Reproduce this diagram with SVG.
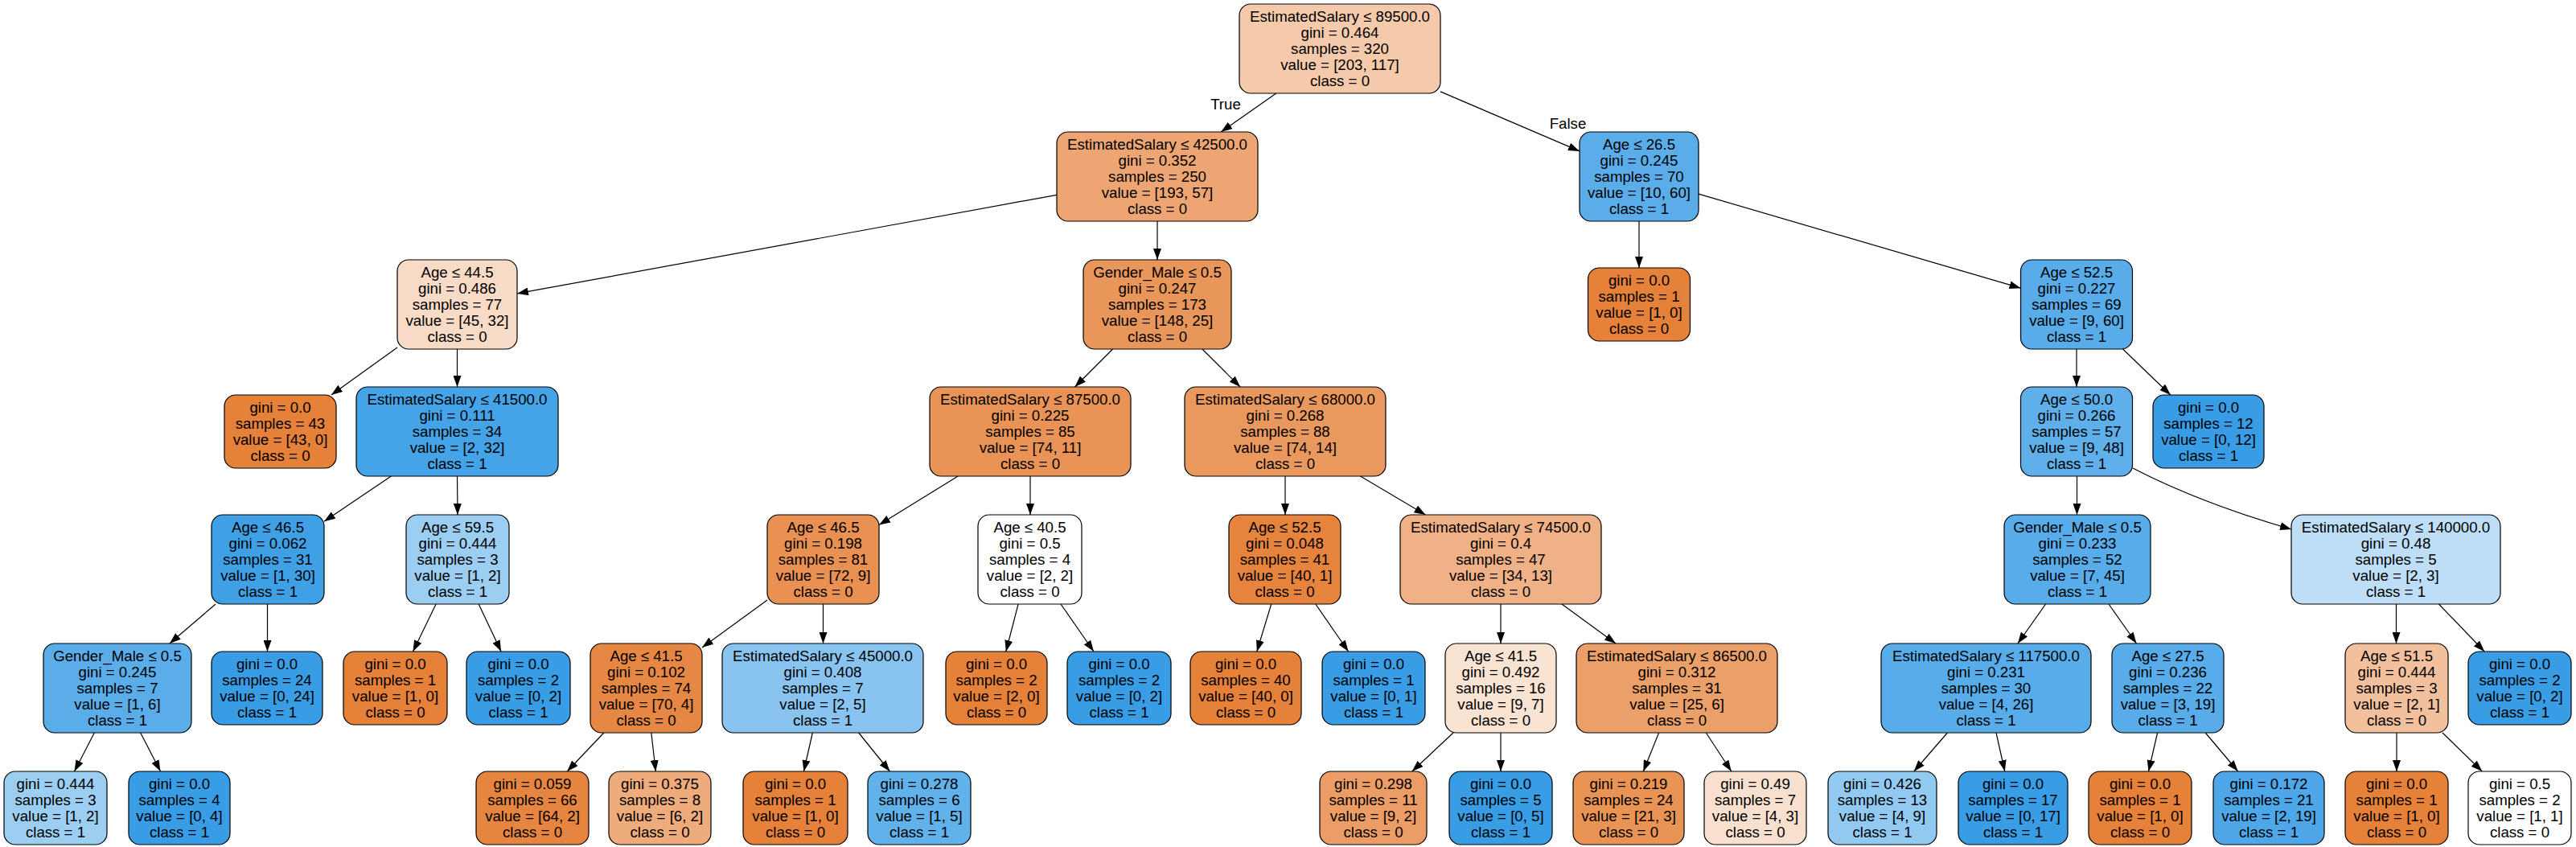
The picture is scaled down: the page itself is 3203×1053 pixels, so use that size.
<svg xmlns="http://www.w3.org/2000/svg" width="3203" height="1053" viewBox="0 0 3203 1053">
<defs>
<style>
text{font-family:"Liberation Sans",Arial,Helvetica,sans-serif;font-size:18.67px;text-anchor:middle;fill:#000}
.node rect{stroke:#000;stroke-width:1.2}
.edges path{stroke:#000;stroke-width:1.2;fill:none;marker-end:url(#arr)}
</style>
<marker id="arr" markerUnits="userSpaceOnUse" markerWidth="14" markerHeight="10" viewBox="0 0 14 10" refX="14" refY="5" orient="auto"><path d="M0,0 L14,5 L0,10 z" fill="#000"/></marker>
</defs>
<rect x="0" y="0" width="3203" height="1053" fill="#fff"/>
<g class="edges">
<path d="M1586.8,116 L1518.2,164"/>
<path d="M1791,113.9 L1964,187.9"/>
<path d="M1314,242.3 L643,364.9"/>
<path d="M1439,275 L1439,323"/>
<path d="M2038,275 L2038,333"/>
<path d="M2112,241.1 L2512.5,358.2"/>
<path d="M494,432 L411.9,491"/>
<path d="M568.5,434 L568.5,481"/>
<path d="M1383.5,434 L1336.5,481"/>
<path d="M1494.9,434 L1542.1,481"/>
<path d="M2582,434 L2582,481"/>
<path d="M2639.6,434 L2698.8,491"/>
<path d="M486.3,592 L403,648.3"/>
<path d="M568.5,592 L569,640"/>
<path d="M1191.1,592 L1093,652.6"/>
<path d="M1281,592 L1281,640"/>
<path d="M1598,592 L1598,640"/>
<path d="M1691.5,592 L1772.5,640"/>
<path d="M2582.5,592 L2582.5,640"/>
<path d="M2652,582 Q2735,625 2849,658"/>
<path d="M268.1,751 L210.9,800"/>
<path d="M332.5,751 L332.5,810"/>
<path d="M542.1,751 L513.5,810"/>
<path d="M595.2,751 L623.1,810"/>
<path d="M954,746.1 L873,804.9"/>
<path d="M1023.5,751 L1023.5,800"/>
<path d="M1266.1,751 L1250.8,810"/>
<path d="M1319,751 L1360,810"/>
<path d="M1580.7,751 L1562.8,810"/>
<path d="M1635.8,751 L1676.6,810"/>
<path d="M1866,751 L1866,800"/>
<path d="M1942,751 L2009,800"/>
<path d="M2543.6,751 L2508.9,800"/>
<path d="M2622,751 L2656.5,800"/>
<path d="M2979.5,751 L2979.5,800"/>
<path d="M3032.4,751 L3089.2,810"/>
<path d="M117.3,911 L92.5,959"/>
<path d="M174.7,911 L199.5,959"/>
<path d="M750.8,911 L705.2,959"/>
<path d="M809.8,911 L815.3,959"/>
<path d="M1010.3,911 L999.4,959"/>
<path d="M1067.7,911 L1106.4,959"/>
<path d="M1807,911 L1755.8,959"/>
<path d="M1866,911 L1866,959"/>
<path d="M2062.6,911 L2043.3,959"/>
<path d="M2121.3,911 L2152.8,959"/>
<path d="M2421.4,911 L2379.8,959"/>
<path d="M2482,911 L2492.8,959"/>
<path d="M2682.6,911 L2671.5,959"/>
<path d="M2742.2,911 L2782.7,959"/>
<path d="M2980,911 L2980,959"/>
<path d="M3037,911 L3086.3,959"/>
<text x="1524" y="136">True</text>
<text x="1949.5" y="160.4">False</text>
</g>

<g id="node0" class="node"><rect x="1541" y="5" width="250" height="111" rx="14" fill="#f4caab"/><text x="1666" y="27.2">EstimatedSalary &#8804; 89500.0<tspan x="1666" dy="20">gini = 0.464</tspan><tspan x="1666" dy="20">samples = 320</tspan><tspan x="1666" dy="20">value = [203, 117]</tspan><tspan x="1666" dy="20">class = 0</tspan></text></g>

<g id="node1" class="node"><rect x="1314" y="164" width="250" height="111" rx="14" fill="#eda673"/><text x="1439" y="186.2">EstimatedSalary &#8804; 42500.0<tspan x="1439" dy="20">gini = 0.352</tspan><tspan x="1439" dy="20">samples = 250</tspan><tspan x="1439" dy="20">value = [193, 57]</tspan><tspan x="1439" dy="20">class = 0</tspan></text></g>

<g id="node2" class="node"><rect x="1964" y="164" width="148" height="111" rx="14" fill="#5aade9"/><text x="2038" y="186.2">Age &#8804; 26.5<tspan x="2038" dy="20">gini = 0.245</tspan><tspan x="2038" dy="20">samples = 70</tspan><tspan x="2038" dy="20">value = [10, 60]</tspan><tspan x="2038" dy="20">class = 1</tspan></text></g>

<g id="node3" class="node"><rect x="494" y="323" width="149" height="111" rx="14" fill="#f7dbc6"/><text x="568.5" y="345.2">Age &#8804; 44.5<tspan x="568.5" dy="20">gini = 0.486</tspan><tspan x="568.5" dy="20">samples = 77</tspan><tspan x="568.5" dy="20">value = [45, 32]</tspan><tspan x="568.5" dy="20">class = 0</tspan></text></g>

<g id="node4" class="node"><rect x="1347" y="323" width="184" height="111" rx="14" fill="#e9965a"/><text x="1439" y="345.2">Gender_Male &#8804; 0.5<tspan x="1439" dy="20">gini = 0.247</tspan><tspan x="1439" dy="20">samples = 173</tspan><tspan x="1439" dy="20">value = [148, 25]</tspan><tspan x="1439" dy="20">class = 0</tspan></text></g>

<g id="node5" class="node"><rect x="1974.5" y="333" width="127" height="91" rx="14" fill="#e58139"/><text x="2038" y="355.2">gini = 0.0<tspan x="2038" dy="20">samples = 1</tspan><tspan x="2038" dy="20">value = [1, 0]</tspan><tspan x="2038" dy="20">class = 0</tspan></text></g>

<g id="node6" class="node"><rect x="2512.5" y="323" width="139" height="111" rx="14" fill="#57ace9"/><text x="2582" y="345.2">Age &#8804; 52.5<tspan x="2582" dy="20">gini = 0.227</tspan><tspan x="2582" dy="20">samples = 69</tspan><tspan x="2582" dy="20">value = [9, 60]</tspan><tspan x="2582" dy="20">class = 1</tspan></text></g>

<g id="node7" class="node"><rect x="279" y="491" width="139" height="91" rx="14" fill="#e58139"/><text x="348.5" y="513.2">gini = 0.0<tspan x="348.5" dy="20">samples = 43</tspan><tspan x="348.5" dy="20">value = [43, 0]</tspan><tspan x="348.5" dy="20">class = 0</tspan></text></g>

<g id="node8" class="node"><rect x="443" y="481" width="251" height="111" rx="14" fill="#45a3e7"/><text x="568.5" y="503.2">EstimatedSalary &#8804; 41500.0<tspan x="568.5" dy="20">gini = 0.111</tspan><tspan x="568.5" dy="20">samples = 34</tspan><tspan x="568.5" dy="20">value = [2, 32]</tspan><tspan x="568.5" dy="20">class = 1</tspan></text></g>

<g id="node9" class="node"><rect x="1156" y="481" width="250" height="111" rx="14" fill="#e99456"/><text x="1281" y="503.2">EstimatedSalary &#8804; 87500.0<tspan x="1281" dy="20">gini = 0.225</tspan><tspan x="1281" dy="20">samples = 85</tspan><tspan x="1281" dy="20">value = [74, 11]</tspan><tspan x="1281" dy="20">class = 0</tspan></text></g>

<g id="node10" class="node"><rect x="1473" y="481" width="250" height="111" rx="14" fill="#ea995e"/><text x="1598" y="503.2">EstimatedSalary &#8804; 68000.0<tspan x="1598" dy="20">gini = 0.268</tspan><tspan x="1598" dy="20">samples = 88</tspan><tspan x="1598" dy="20">value = [74, 14]</tspan><tspan x="1598" dy="20">class = 0</tspan></text></g>

<g id="node11" class="node"><rect x="2512.5" y="481" width="139" height="111" rx="14" fill="#5eafea"/><text x="2582" y="503.2">Age &#8804; 50.0<tspan x="2582" dy="20">gini = 0.266</tspan><tspan x="2582" dy="20">samples = 57</tspan><tspan x="2582" dy="20">value = [9, 48]</tspan><tspan x="2582" dy="20">class = 1</tspan></text></g>

<g id="node12" class="node"><rect x="2677" y="491" width="138" height="91" rx="14" fill="#399de5"/><text x="2746" y="513.2">gini = 0.0<tspan x="2746" dy="20">samples = 12</tspan><tspan x="2746" dy="20">value = [0, 12]</tspan><tspan x="2746" dy="20">class = 1</tspan></text></g>

<g id="node13" class="node"><rect x="263" y="640" width="140" height="111" rx="14" fill="#40a0e6"/><text x="333" y="662.2">Age &#8804; 46.5<tspan x="333" dy="20">gini = 0.062</tspan><tspan x="333" dy="20">samples = 31</tspan><tspan x="333" dy="20">value = [1, 30]</tspan><tspan x="333" dy="20">class = 1</tspan></text></g>

<g id="node14" class="node"><rect x="505" y="640" width="128" height="111" rx="14" fill="#9ccef2"/><text x="569" y="662.2">Age &#8804; 59.5<tspan x="569" dy="20">gini = 0.444</tspan><tspan x="569" dy="20">samples = 3</tspan><tspan x="569" dy="20">value = [1, 2]</tspan><tspan x="569" dy="20">class = 1</tspan></text></g>

<g id="node15" class="node"><rect x="954" y="640" width="139" height="111" rx="14" fill="#e89152"/><text x="1023.5" y="662.2">Age &#8804; 46.5<tspan x="1023.5" dy="20">gini = 0.198</tspan><tspan x="1023.5" dy="20">samples = 81</tspan><tspan x="1023.5" dy="20">value = [72, 9]</tspan><tspan x="1023.5" dy="20">class = 0</tspan></text></g>

<g id="node16" class="node"><rect x="1216" y="640" width="129" height="111" rx="14" fill="#ffffff"/><text x="1280.5" y="662.2">Age &#8804; 40.5<tspan x="1280.5" dy="20">gini = 0.5</tspan><tspan x="1280.5" dy="20">samples = 4</tspan><tspan x="1280.5" dy="20">value = [2, 2]</tspan><tspan x="1280.5" dy="20">class = 0</tspan></text></g>

<g id="node17" class="node"><rect x="1528" y="640" width="139" height="111" rx="14" fill="#e6843e"/><text x="1597.5" y="662.2">Age &#8804; 52.5<tspan x="1597.5" dy="20">gini = 0.048</tspan><tspan x="1597.5" dy="20">samples = 41</tspan><tspan x="1597.5" dy="20">value = [40, 1]</tspan><tspan x="1597.5" dy="20">class = 0</tspan></text></g>

<g id="node18" class="node"><rect x="1741" y="640" width="250" height="111" rx="14" fill="#efb185"/><text x="1866" y="662.2">EstimatedSalary &#8804; 74500.0<tspan x="1866" dy="20">gini = 0.4</tspan><tspan x="1866" dy="20">samples = 47</tspan><tspan x="1866" dy="20">value = [34, 13]</tspan><tspan x="1866" dy="20">class = 0</tspan></text></g>

<g id="node19" class="node"><rect x="2492" y="640" width="182" height="111" rx="14" fill="#58ace9"/><text x="2583" y="662.2">Gender_Male &#8804; 0.5<tspan x="2583" dy="20">gini = 0.233</tspan><tspan x="2583" dy="20">samples = 52</tspan><tspan x="2583" dy="20">value = [7, 45]</tspan><tspan x="2583" dy="20">class = 1</tspan></text></g>

<g id="node20" class="node"><rect x="2849" y="640" width="260" height="111" rx="14" fill="#bddef6"/><text x="2979" y="662.2">EstimatedSalary &#8804; 140000.0<tspan x="2979" dy="20">gini = 0.48</tspan><tspan x="2979" dy="20">samples = 5</tspan><tspan x="2979" dy="20">value = [2, 3]</tspan><tspan x="2979" dy="20">class = 1</tspan></text></g>

<g id="node21" class="node"><rect x="54" y="800" width="184" height="111" rx="14" fill="#5aade9"/><text x="146" y="822.2">Gender_Male &#8804; 0.5<tspan x="146" dy="20">gini = 0.245</tspan><tspan x="146" dy="20">samples = 7</tspan><tspan x="146" dy="20">value = [1, 6]</tspan><tspan x="146" dy="20">class = 1</tspan></text></g>

<g id="node22" class="node"><rect x="263" y="810" width="138" height="91" rx="14" fill="#399de5"/><text x="332" y="832.2">gini = 0.0<tspan x="332" dy="20">samples = 24</tspan><tspan x="332" dy="20">value = [0, 24]</tspan><tspan x="332" dy="20">class = 1</tspan></text></g>

<g id="node23" class="node"><rect x="427" y="810" width="129" height="91" rx="14" fill="#e58139"/><text x="491.5" y="832.2">gini = 0.0<tspan x="491.5" dy="20">samples = 1</tspan><tspan x="491.5" dy="20">value = [1, 0]</tspan><tspan x="491.5" dy="20">class = 0</tspan></text></g>

<g id="node24" class="node"><rect x="580" y="810" width="129" height="91" rx="14" fill="#399de5"/><text x="644.5" y="832.2">gini = 0.0<tspan x="644.5" dy="20">samples = 2</tspan><tspan x="644.5" dy="20">value = [0, 2]</tspan><tspan x="644.5" dy="20">class = 1</tspan></text></g>

<g id="node25" class="node"><rect x="734" y="800" width="139" height="111" rx="14" fill="#e68844"/><text x="803.5" y="822.2">Age &#8804; 41.5<tspan x="803.5" dy="20">gini = 0.102</tspan><tspan x="803.5" dy="20">samples = 74</tspan><tspan x="803.5" dy="20">value = [70, 4]</tspan><tspan x="803.5" dy="20">class = 0</tspan></text></g>

<g id="node26" class="node"><rect x="898" y="800" width="250" height="111" rx="14" fill="#88c4ef"/><text x="1023" y="822.2">EstimatedSalary &#8804; 45000.0<tspan x="1023" dy="20">gini = 0.408</tspan><tspan x="1023" dy="20">samples = 7</tspan><tspan x="1023" dy="20">value = [2, 5]</tspan><tspan x="1023" dy="20">class = 1</tspan></text></g>

<g id="node27" class="node"><rect x="1176" y="810" width="126" height="91" rx="14" fill="#e58139"/><text x="1239" y="832.2">gini = 0.0<tspan x="1239" dy="20">samples = 2</tspan><tspan x="1239" dy="20">value = [2, 0]</tspan><tspan x="1239" dy="20">class = 0</tspan></text></g>

<g id="node28" class="node"><rect x="1327" y="810" width="129" height="91" rx="14" fill="#399de5"/><text x="1391.5" y="832.2">gini = 0.0<tspan x="1391.5" dy="20">samples = 2</tspan><tspan x="1391.5" dy="20">value = [0, 2]</tspan><tspan x="1391.5" dy="20">class = 1</tspan></text></g>

<g id="node29" class="node"><rect x="1480" y="810" width="138" height="91" rx="14" fill="#e58139"/><text x="1549" y="832.2">gini = 0.0<tspan x="1549" dy="20">samples = 40</tspan><tspan x="1549" dy="20">value = [40, 0]</tspan><tspan x="1549" dy="20">class = 0</tspan></text></g>

<g id="node30" class="node"><rect x="1644" y="810" width="128" height="91" rx="14" fill="#399de5"/><text x="1708" y="832.2">gini = 0.0<tspan x="1708" dy="20">samples = 1</tspan><tspan x="1708" dy="20">value = [0, 1]</tspan><tspan x="1708" dy="20">class = 1</tspan></text></g>

<g id="node31" class="node"><rect x="1797" y="800" width="138" height="111" rx="14" fill="#f9e3d3"/><text x="1866" y="822.2">Age &#8804; 41.5<tspan x="1866" dy="20">gini = 0.492</tspan><tspan x="1866" dy="20">samples = 16</tspan><tspan x="1866" dy="20">value = [9, 7]</tspan><tspan x="1866" dy="20">class = 0</tspan></text></g>

<g id="node32" class="node"><rect x="1960" y="800" width="250" height="111" rx="14" fill="#eb9f69"/><text x="2085" y="822.2">EstimatedSalary &#8804; 86500.0<tspan x="2085" dy="20">gini = 0.312</tspan><tspan x="2085" dy="20">samples = 31</tspan><tspan x="2085" dy="20">value = [25, 6]</tspan><tspan x="2085" dy="20">class = 0</tspan></text></g>

<g id="node33" class="node"><rect x="2339" y="800" width="261" height="111" rx="14" fill="#57ace9"/><text x="2469.5" y="822.2">EstimatedSalary &#8804; 117500.0<tspan x="2469.5" dy="20">gini = 0.231</tspan><tspan x="2469.5" dy="20">samples = 30</tspan><tspan x="2469.5" dy="20">value = [4, 26]</tspan><tspan x="2469.5" dy="20">class = 1</tspan></text></g>

<g id="node34" class="node"><rect x="2626" y="800" width="139" height="111" rx="14" fill="#58ace9"/><text x="2695.5" y="822.2">Age &#8804; 27.5<tspan x="2695.5" dy="20">gini = 0.236</tspan><tspan x="2695.5" dy="20">samples = 22</tspan><tspan x="2695.5" dy="20">value = [3, 19]</tspan><tspan x="2695.5" dy="20">class = 1</tspan></text></g>

<g id="node35" class="node"><rect x="2916" y="800" width="128" height="111" rx="14" fill="#f2c09c"/><text x="2980" y="822.2">Age &#8804; 51.5<tspan x="2980" dy="20">gini = 0.444</tspan><tspan x="2980" dy="20">samples = 3</tspan><tspan x="2980" dy="20">value = [2, 1]</tspan><tspan x="2980" dy="20">class = 0</tspan></text></g>

<g id="node36" class="node"><rect x="3069" y="810" width="128" height="91" rx="14" fill="#399de5"/><text x="3133" y="832.2">gini = 0.0<tspan x="3133" dy="20">samples = 2</tspan><tspan x="3133" dy="20">value = [0, 2]</tspan><tspan x="3133" dy="20">class = 1</tspan></text></g>

<g id="node37" class="node"><rect x="5" y="959" width="128" height="91" rx="14" fill="#9ccef2"/><text x="69" y="981.2">gini = 0.444<tspan x="69" dy="20">samples = 3</tspan><tspan x="69" dy="20">value = [1, 2]</tspan><tspan x="69" dy="20">class = 1</tspan></text></g>

<g id="node38" class="node"><rect x="160" y="959" width="126" height="91" rx="14" fill="#399de5"/><text x="223" y="981.2">gini = 0.0<tspan x="223" dy="20">samples = 4</tspan><tspan x="223" dy="20">value = [0, 4]</tspan><tspan x="223" dy="20">class = 1</tspan></text></g>

<g id="node39" class="node"><rect x="592" y="959" width="140" height="91" rx="14" fill="#e6853f"/><text x="662" y="981.2">gini = 0.059<tspan x="662" dy="20">samples = 66</tspan><tspan x="662" dy="20">value = [64, 2]</tspan><tspan x="662" dy="20">class = 0</tspan></text></g>

<g id="node40" class="node"><rect x="757" y="959" width="127" height="91" rx="14" fill="#eeab7b"/><text x="820.5" y="981.2">gini = 0.375<tspan x="820.5" dy="20">samples = 8</tspan><tspan x="820.5" dy="20">value = [6, 2]</tspan><tspan x="820.5" dy="20">class = 0</tspan></text></g>

<g id="node41" class="node"><rect x="924" y="959" width="130" height="91" rx="14" fill="#e58139"/><text x="989" y="981.2">gini = 0.0<tspan x="989" dy="20">samples = 1</tspan><tspan x="989" dy="20">value = [1, 0]</tspan><tspan x="989" dy="20">class = 0</tspan></text></g>

<g id="node42" class="node"><rect x="1079" y="959" width="128" height="91" rx="14" fill="#61b1ea"/><text x="1143" y="981.2">gini = 0.278<tspan x="1143" dy="20">samples = 6</tspan><tspan x="1143" dy="20">value = [1, 5]</tspan><tspan x="1143" dy="20">class = 1</tspan></text></g>

<g id="node43" class="node"><rect x="1641" y="959" width="133" height="91" rx="14" fill="#eb9d65"/><text x="1707.5" y="981.2">gini = 0.298<tspan x="1707.5" dy="20">samples = 11</tspan><tspan x="1707.5" dy="20">value = [9, 2]</tspan><tspan x="1707.5" dy="20">class = 0</tspan></text></g>

<g id="node44" class="node"><rect x="1802" y="959" width="128" height="91" rx="14" fill="#399de5"/><text x="1866" y="981.2">gini = 0.0<tspan x="1866" dy="20">samples = 5</tspan><tspan x="1866" dy="20">value = [0, 5]</tspan><tspan x="1866" dy="20">class = 1</tspan></text></g>

<g id="node45" class="node"><rect x="1956" y="959" width="138" height="91" rx="14" fill="#e99355"/><text x="2025" y="981.2">gini = 0.219<tspan x="2025" dy="20">samples = 24</tspan><tspan x="2025" dy="20">value = [21, 3]</tspan><tspan x="2025" dy="20">class = 0</tspan></text></g>

<g id="node46" class="node"><rect x="2119" y="959" width="127" height="91" rx="14" fill="#f8e0ce"/><text x="2182.5" y="981.2">gini = 0.49<tspan x="2182.5" dy="20">samples = 7</tspan><tspan x="2182.5" dy="20">value = [4, 3]</tspan><tspan x="2182.5" dy="20">class = 0</tspan></text></g>

<g id="node47" class="node"><rect x="2273" y="959" width="135" height="91" rx="14" fill="#91c9f1"/><text x="2340.5" y="981.2">gini = 0.426<tspan x="2340.5" dy="20">samples = 13</tspan><tspan x="2340.5" dy="20">value = [4, 9]</tspan><tspan x="2340.5" dy="20">class = 1</tspan></text></g>

<g id="node48" class="node"><rect x="2435" y="959" width="136" height="91" rx="14" fill="#399de5"/><text x="2503" y="981.2">gini = 0.0<tspan x="2503" dy="20">samples = 17</tspan><tspan x="2503" dy="20">value = [0, 17]</tspan><tspan x="2503" dy="20">class = 1</tspan></text></g>

<g id="node49" class="node"><rect x="2597" y="959" width="128" height="91" rx="14" fill="#e58139"/><text x="2661" y="981.2">gini = 0.0<tspan x="2661" dy="20">samples = 1</tspan><tspan x="2661" dy="20">value = [1, 0]</tspan><tspan x="2661" dy="20">class = 0</tspan></text></g>

<g id="node50" class="node"><rect x="2752" y="959" width="138" height="91" rx="14" fill="#4ea7e8"/><text x="2821" y="981.2">gini = 0.172<tspan x="2821" dy="20">samples = 21</tspan><tspan x="2821" dy="20">value = [2, 19]</tspan><tspan x="2821" dy="20">class = 1</tspan></text></g>

<g id="node51" class="node"><rect x="2916" y="959" width="128" height="91" rx="14" fill="#e58139"/><text x="2980" y="981.2">gini = 0.0<tspan x="2980" dy="20">samples = 1</tspan><tspan x="2980" dy="20">value = [1, 0]</tspan><tspan x="2980" dy="20">class = 0</tspan></text></g>

<g id="node52" class="node"><rect x="3069" y="959" width="128" height="91" rx="14" fill="#ffffff"/><text x="3133" y="981.2">gini = 0.5<tspan x="3133" dy="20">samples = 2</tspan><tspan x="3133" dy="20">value = [1, 1]</tspan><tspan x="3133" dy="20">class = 0</tspan></text></g>
</svg>
